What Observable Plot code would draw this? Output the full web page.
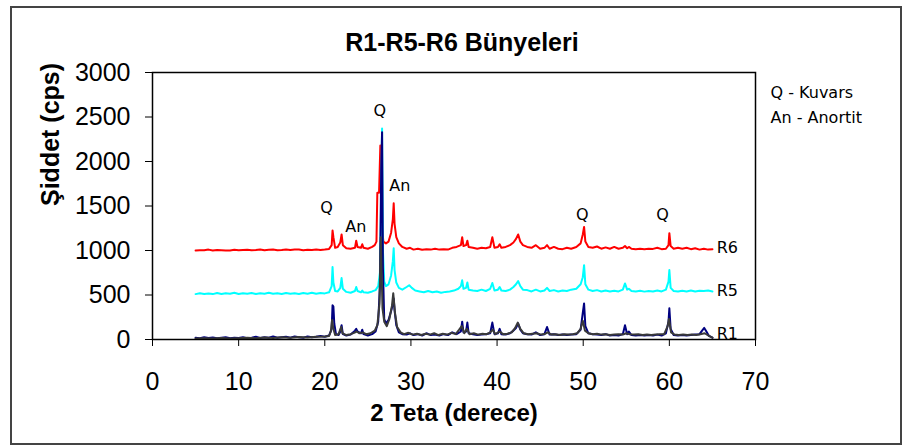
<!DOCTYPE html>
<html><head><meta charset="utf-8">
<script src="https://cdn.jsdelivr.net/npm/d3@7"></script>
<script src="https://cdn.jsdelivr.net/npm/@observablehq/plot@0.6"></script>
<style>
body{margin:0;background:#fff}
#wrap{position:relative;width:906px;height:448px}
#border{position:absolute;left:10px;top:6px;width:892px;height:439px;border:2px solid #444;box-sizing:border-box;pointer-events:none}
</style></head><body><div id="wrap"><div id="border"></div></div>
<script>
const title = "R1-R5-R6 Bünyeleri";
const xLabel = "2 Teta (derece)";
const yLabel = "Şiddet (cps)";
const xTicks = [0, 10, 20, 30, 40, 50, 60, 70];
const yTicks = [0, 500, 1000, 1500, 2000, 2500, 3000];
const legendLines = ["Q - Kuvars", "An - Anortit"];

const seriesNames = ["R6", "R5", "R1", "R1b"];
const seriesColors = ["#ff0000", "#00ffff", "#000080", "#3a3a3a"];

const r6 = [[5,1000],[5.5,1004],[6,1002],[6.5,1010],[7,1000],[7.5,1006],[8,1003],[8.5,1000],[9,1000],[9.5,1008],[10,1003],[10.5,1006],[11,1008],[11.5,1003],[12,1005],[12.5,1012],[13,1004],[13.5,1009],[14,1010],[14.5,1004],[15,1006],[15.5,1012],[16,1006],[16.5,1010],[17,1010],[17.5,1004],[18,1008],[18.5,1006],[19,1012],[19.5,1005],[20,1010],[20.5,1018],[20.8,1060],[20.9,1225],[21.0,1150],[21.2,1030],[21.5,1040],[21.8,1090],[21.95,1180],[22.1,1060],[22.5,1025],[23,1020],[23.5,1030],[23.65,1110],[23.8,1040],[24.2,1030],[24.35,1070],[24.5,1030],[25,1020],[25.5,1040],[25.8,1060],[26.0,1100],[26.1,1650],[26.3,1650],[26.45,2180],[26.6,1300],[26.8,1100],[27.1,1080],[27.4,1100],[27.7,1200],[27.9,1350],[28.0,1530],[28.1,1300],[28.3,1150],[28.6,1080],[29,1040],[29.5,1020],[29.9,1030],[30.3,1010],[30.8,1020],[31.3,1008],[31.8,1015],[32.3,1010],[32.8,1020],[33.3,1010],[33.8,1015],[34.3,1010],[34.8,1030],[35.3,1040],[35.8,1060],[35.95,1150],[36.1,1050],[36.4,1060],[36.55,1110],[36.7,1040],[37.2,1030],[37.7,1020],[38.2,1030],[38.7,1025],[39.2,1040],[39.45,1150],[39.7,1030],[40.1,1040],[40.3,1070],[40.5,1030],[41,1040],[41.5,1060],[41.9,1090],[42.2,1130],[42.45,1180],[42.7,1100],[43,1060],[43.5,1040],[44,1030],[44.5,1060],[45,1020],[45.5,1030],[45.8,1060],[46.1,1020],[46.6,1040],[47.1,1020],[47.6,1015],[48.1,1030],[48.6,1020],[49.2,1040],[49.7,1080],[49.95,1180],[50.1,1265],[50.25,1100],[50.6,1040],[51.1,1030],[51.6,1045],[52.1,1020],[52.6,1035],[53.1,1020],[53.6,1040],[54.1,1020],[54.6,1030],[54.85,1050],[55.1,1025],[55.3,1040],[55.6,1020],[56.1,1015],[56.6,1020],[57.1,1015],[57.6,1020],[58.1,1018],[58.6,1030],[59.1,1015],[59.6,1020],[59.9,1060],[60.0,1195],[60.15,1050],[60.5,1020],[61,1030],[61.5,1020],[62,1030],[62.5,1015],[63,1025],[63.5,1010],[64,1020],[64.5,1010],[65,1015]];

const r5 = [[5,510],[5.5,520],[6,512],[6.5,518],[7,510],[7.5,522],[8,512],[8.5,520],[9,515],[9.5,525],[10,512],[10.5,520],[11,515],[11.5,522],[12,512],[12.5,520],[13,515],[13.5,525],[14,515],[14.5,520],[15,512],[15.5,522],[16,515],[16.5,520],[17,512],[17.5,522],[18,515],[18.5,525],[19,515],[19.5,522],[20,518],[20.5,530],[20.8,600],[20.9,815],[21.0,640],[21.2,545],[21.5,540],[21.8,580],[21.95,690],[22.1,570],[22.5,535],[23,525],[23.5,545],[23.65,590],[23.8,545],[24.2,530],[24.35,550],[24.5,530],[25,525],[25.5,540],[25.9,555],[26.2,600],[26.4,750],[26.55,1600],[26.65,2370],[26.75,1000],[26.9,650],[27.1,600],[27.4,620],[27.7,720],[27.9,880],[28.0,1025],[28.1,780],[28.3,640],[28.6,580],[29,560],[29.5,590],[29.8,610],[30.1,580],[30.5,550],[31,540],[31.5,530],[32,545],[32.5,530],[33,540],[33.5,525],[34,535],[34.5,540],[35,550],[35.5,570],[35.8,600],[35.95,665],[36.1,570],[36.4,580],[36.55,640],[36.7,560],[37.2,550],[37.7,545],[38.2,560],[38.7,545],[39.2,570],[39.45,635],[39.7,550],[40.1,560],[40.3,590],[40.5,550],[41,545],[41.5,560],[41.9,590],[42.2,620],[42.45,657],[42.7,600],[43,560],[43.5,555],[44,540],[44.5,560],[45,540],[45.5,550],[45.8,580],[46.1,545],[46.6,555],[47.1,540],[47.6,550],[48.1,545],[48.6,560],[49.2,570],[49.7,620],[49.95,700],[50.1,835],[50.25,620],[50.6,560],[51.1,545],[51.6,555],[52.1,540],[52.6,550],[53.1,540],[53.6,548],[54.1,540],[54.6,560],[54.85,630],[55.1,560],[55.3,570],[55.6,545],[56.1,540],[56.6,548],[57.1,538],[57.6,545],[58.1,540],[58.6,550],[59.1,540],[59.6,560],[59.9,650],[60.0,780],[60.15,580],[60.5,545],[61,540],[61.5,548],[62,540],[62.5,550],[63,540],[63.5,548],[64,545],[64.5,550],[65,540]];

const r1 = [[5,20],[5.5,15],[6,25],[6.5,18],[7,22],[7.5,15],[8,20],[8.5,25],[9,15],[9.5,20],[10,18],[10.5,25],[11,15],[11.5,20],[12,30],[12.5,18],[13,25],[13.5,20],[14,35],[14.5,20],[15,25],[15.5,30],[16,20],[16.5,35],[17,25],[17.5,20],[18,35],[18.5,25],[19,30],[19.5,40],[20,30],[20.5,45],[20.8,120],[20.9,385],[21.0,370],[21.1,180],[21.3,60],[21.6,50],[21.8,90],[21.95,160],[22.1,60],[22.5,45],[23,55],[23.3,80],[23.5,100],[23.65,120],[23.8,90],[24.2,70],[24.35,110],[24.5,60],[25,45],[25.5,60],[25.9,90],[26.2,200],[26.4,600],[26.55,1900],[26.65,2330],[26.75,800],[26.9,230],[27.1,180],[27.4,220],[27.7,320],[27.9,400],[28.0,460],[28.1,330],[28.3,160],[28.6,80],[29,60],[29.5,55],[29.9,70],[30.3,50],[30.8,60],[31.3,45],[31.8,70],[32.3,50],[32.8,55],[33.3,45],[33.8,60],[34.3,50],[34.8,80],[35.3,60],[35.8,90],[35.95,200],[36.1,80],[36.4,90],[36.55,190],[36.7,70],[37.2,60],[37.7,50],[38.2,55],[38.7,60],[39.2,70],[39.45,190],[39.7,60],[40.1,70],[40.3,120],[40.5,60],[41,55],[41.5,70],[41.9,100],[42.2,130],[42.45,180],[42.7,110],[43,70],[43.5,60],[44,55],[44.5,80],[45,50],[45.5,60],[45.8,140],[46.1,55],[46.6,60],[47.1,50],[47.6,55],[48.1,50],[48.6,55],[49.2,60],[49.7,110],[49.95,300],[50.1,405],[50.25,150],[50.6,70],[51.1,60],[51.6,55],[52.1,50],[52.6,60],[53.1,45],[53.6,50],[54.1,45],[54.6,60],[54.85,160],[55.1,60],[55.3,90],[55.6,50],[56.1,45],[56.6,50],[57.1,45],[57.6,50],[58.1,45],[58.6,55],[59.1,45],[59.6,70],[59.9,200],[60.0,350],[60.15,120],[60.5,50],[61,45],[61.5,50],[62,45],[62.5,50],[63,55],[63.5,60],[63.8,100],[64.05,130],[64.3,90],[64.6,40],[65,20]];

const r1b = [[5,10],[6,15],[7,12],[8,18],[9,12],[10,15],[11,20],[12,15],[13,22],[14,18],[15,25],[16,20],[17,28],[18,22],[19,30],[20,35],[20.5,40],[20.7,90],[20.85,220],[21.0,120],[21.2,50],[21.6,60],[21.9,140],[22.05,70],[22.5,50],[23,60],[23.4,75],[23.7,90],[24,70],[24.4,80],[24.8,60],[25.3,70],[25.8,100],[26.1,160],[26.35,400],[26.5,1150],[26.7,350],[26.9,200],[27.2,150],[27.5,230],[27.8,380],[27.95,520],[28.15,300],[28.4,140],[28.8,80],[29.2,60],[29.7,75],[30.2,55],[30.7,65],[31.2,50],[31.7,65],[32.2,55],[32.7,70],[33.2,50],[33.7,65],[34.2,55],[34.7,75],[35.2,60],[35.6,110],[35.9,150],[36.2,70],[36.5,120],[36.8,60],[37.3,70],[37.8,55],[38.3,65],[38.8,60],[39.2,80],[39.5,110],[39.8,60],[40.3,90],[40.7,60],[41.2,65],[41.7,80],[42.1,130],[42.4,190],[42.7,120],[43.1,70],[43.6,60],[44.1,65],[44.6,70],[45.1,55],[45.6,65],[45.9,80],[46.3,55],[46.8,60],[47.3,50],[47.8,60],[48.3,55],[48.8,60],[49.3,70],[49.7,120],[49.95,210],[50.2,100],[50.6,70],[51.1,60],[51.6,65],[52.1,55],[52.6,60],[53.1,50],[53.6,55],[54.1,60],[54.6,55],[55.0,70],[55.4,60],[55.9,55],[56.4,60],[56.9,50],[57.4,55],[57.9,50],[58.4,55],[58.9,60],[59.4,60],[59.8,150],[59.95,230],[60.2,80],[60.6,55],[61.1,50],[61.6,55],[62.1,50],[62.6,55],[63.1,50],[63.6,60],[64.1,70],[64.6,40],[65,20]];

const annotText = ["Q", "An", "Q", "An", "Q", "Q"];
const annotX = [20.2, 23.6, 26.4, 28.7, 49.9, 59.2];
const annotY = [1483, 1262, 2571, 1730, 1405, 1405];

const seriesLabelText = ["R6", "R5", "R1"];
const seriesLabelX = [65.5, 65.5, 65.5];
const seriesLabelY = [1035, 541, 60];

const seriesData = [r6, r5, r1, r1b];
const rows = seriesData.flatMap((s, i) => s.map(([t, c]) => ({theta: t, cps: c, series: seriesNames[i]})));
const annots = annotText.map((t, i) => ({text: t, x: annotX[i], y: annotY[i]}));
const sLabels = seriesLabelText.map((t, i) => ({text: t, x: seriesLabelX[i], y: seriesLabelY[i]}));

const sansFont = "'Liberation Sans', Arial, sans-serif";
const smallFont = "'DejaVu Sans', Verdana, sans-serif";

const chart = Plot.plot({
  width: 906, height: 448,
  marginLeft: 152, marginTop: 72, marginRight: 151, marginBottom: 109,
  style: {fontFamily: sansFont, background: "transparent", overflow: "visible", color: "#000"},
  x: {domain: [0, 70]},
  y: {domain: [0, 3000]},
  color: {domain: seriesNames, range: seriesColors},
  marks: [
    Plot.line(rows, {x: "theta", y: "cps", z: "series", stroke: "series", strokeWidth: 2, curve: "linear"}),
    Plot.frame({stroke: "#000", strokeWidth: 1.5}),
    Plot.axisX({ticks: xTicks, tickSize: 7, tickPadding: 26, fontSize: 25, label: null, tickFormat: d => String(d)}),
    Plot.axisY({ticks: yTicks, tickSize: 7, tickPadding: 15, fontSize: 25, label: null, tickFormat: d => String(d)}),
    Plot.text(annots, {x: "x", y: "y", text: "text", fontSize: 16, fontFamily: smallFont, fill: "#000"}),
    Plot.text(sLabels, {x: "x", y: "y", text: "text", textAnchor: "start", fontSize: 16, fontFamily: smallFont, fill: "#000", letterSpacing: 2}),
    Plot.text([title], {frameAnchor: "top", lineAnchor: "middle", dx: 8, dy: -30, fontSize: 25, fontWeight: "bold", fill: "#000"}),
    Plot.text([xLabel], {frameAnchor: "bottom", lineAnchor: "middle", dy: 74, fontSize: 24, fontWeight: "bold", fill: "#000"}),
    Plot.text([yLabel], {frameAnchor: "left", dx: -102, rotate: -90, fontSize: 25, fontWeight: "bold", fill: "#000"}),
    Plot.text([legendLines[0]], {frameAnchor: "top-right", lineAnchor: "middle", dx: 15, dy: 20, textAnchor: "start", fontSize: 16, fontFamily: smallFont, fill: "#000"}),
    Plot.text([legendLines[1]], {frameAnchor: "top-right", lineAnchor: "middle", dx: 15, dy: 45, textAnchor: "start", fontSize: 16, fontFamily: smallFont, fill: "#000"})
  ]
});
chart.style.position = "absolute";
chart.style.left = "0";
chart.style.top = "0";
document.getElementById("wrap").appendChild(chart);
</script></body></html>
